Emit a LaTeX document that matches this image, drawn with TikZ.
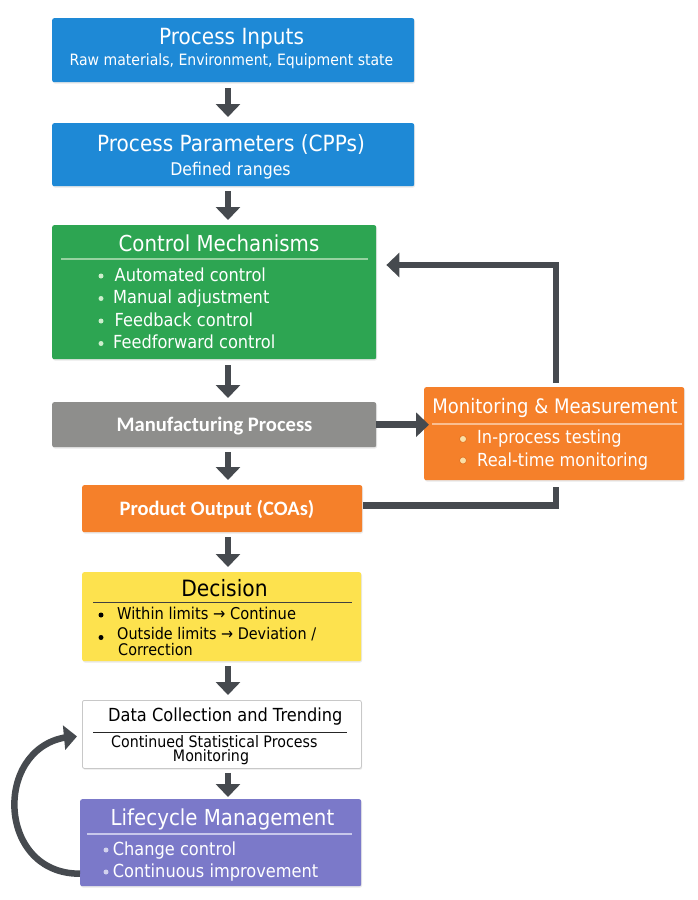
\documentclass[tikz,border=0pt]{standalone}
\usepackage{fontspec}
\setmainfont[FakeStretch=0.9]{DejaVu Sans}
\newfontfamily\carlitofont{Carlito}
\usetikzlibrary{arrows.meta,bending,shadows}
\definecolor{blueb}{RGB}{30,137,214}
\definecolor{greenb}{RGB}{45,165,82}
\definecolor{grayb}{RGB}{142,142,140}
\definecolor{orangeb}{RGB}{245,128,42}
\definecolor{yellowb}{RGB}{253,226,78}
\definecolor{purpleb}{RGB}{123,121,201}
\definecolor{arrowc}{RGB}{70,74,79}
\definecolor{borderc}{RGB}{200,200,200}
\definecolor{greensep}{RGB}{150,210,160}
\definecolor{greendot}{RGB}{205,238,205}
\definecolor{orangesep}{RGB}{250,190,145}
\definecolor{orangedot}{RGB}{250,222,165}
\definecolor{orangering}{RGB}{225,110,30}
\definecolor{purplesep}{RGB}{200,200,235}
\definecolor{purpledot}{RGB}{210,210,238}
\newcommand\fsz[1]{\fontsize{#1}{#1}\selectfont}
\tikzset{
  box/.style={rounded corners=2pt, inner sep=0pt, anchor=north west,
    drop shadow={opacity=0.18, shadow xshift=0.8pt, shadow yshift=-1.3pt}},
  arr/.style={draw=arrowc, line width=6.5pt, line join=miter,
    -{Triangle[width=24pt,length=13pt]}},
  link/.style={draw=arrowc, line width=6.5pt, line join=miter},
  txt/.style={inner sep=0pt, text=white, anchor=base},
  ltxt/.style={inner sep=0pt, text=white, anchor=base west},
  dotc/.style={circle, inner sep=0pt, minimum size=5pt, fill=#1},
  ringdot/.style={circle, inner sep=0pt, minimum size=7pt, fill=orangedot, draw=orangering, line width=0.6pt},
}
\begin{document}
\begin{tikzpicture}[x=1pt,y=-1pt]
\fill[white] (0,0) rectangle (698,900);
\useasboundingbox (0,0) rectangle (698,900);

% ---- boxes
\node[box, fill=blueb, minimum width=362pt, minimum height=64pt] (pin) at (52,18) {};
\node[box, fill=blueb, minimum width=362pt, minimum height=63pt] (ppar) at (52,123) {};
\node[box, fill=greenb, minimum width=324pt, minimum height=134pt] (ctl) at (52,225) {};
\node[box, fill=grayb, minimum width=324pt, minimum height=45pt] (mfg) at (52,402) {};
\node[box, fill=orangeb, minimum width=260pt, minimum height=93pt] (mon) at (424,387) {};
\node[box, fill=orangeb, minimum width=280pt, minimum height=47pt] (prod) at (82,485) {};
\node[box, fill=yellowb, minimum width=279pt, minimum height=89pt] (dec) at (82,572) {};
\node[box, fill=white, draw=borderc, line width=0.8pt, minimum width=279pt, minimum height=68pt] (dc) at (82,700) {};
\node[box, fill=purpleb, minimum width=281pt, minimum height=87pt] (lcm) at (80,799) {};

% ---- Process Inputs
\node[txt, font=\fsz{22.3}] (pinT) at (231.5,44.5) {Process Inputs};
\node[txt, font=\fsz{15.6}] (pinS) at (231.5,65) {Raw materials, Environment, Equipment state};

% ---- Process Parameters
\node[txt, font=\fsz{22.3}] (pparT) at (231,151.7) {Process Parameters (CPPs)};
\node[txt, font=\fsz{17.5}] (pparS) at (230.5,175) {Defined ranges};

% ---- Control Mechanisms
\node[txt, font=\fsz{22}] (ctlT) at (219,251.7) {Control Mechanisms};
\draw[draw=greensep, line width=1.2pt] (61,259) -- (368,259);
\node[dotc=greendot] (cd1) at (101,276) {};
\node[dotc=greendot] (cd2) at (101,298.5) {};
\node[dotc=greendot] (cd3) at (101,321) {};
\node[dotc=greendot] (cd4) at (101,343.5) {};
\node[ltxt, font=\fsz{18}] (cb1) at (114.5,281) {Automated control};
\node[ltxt, font=\fsz{18}] (cb2) at (113,303.5) {Manual adjustment};
\node[ltxt, font=\fsz{18}] (cb3) at (114.5,326) {Feedback control};
\node[ltxt, font=\fsz{18}] (cb4) at (113,348.5) {Feedforward control};

% ---- Manufacturing Process
\node[txt, font=\carlitofont\bfseries\fsz{20.6}] (mfgT) at (214.5,431.5) {Manufacturing Process};

% ---- Monitoring & Measurement
\node[txt, font=\fsz{20}] (monT) at (555,413) {Monitoring \& Measurement};
\draw[draw=orangesep, line width=1.2pt] (432,424) -- (682,424);
\node[ringdot] (md1) at (463,439) {};
\node[ringdot] (md2) at (463,460.5) {};
\node[ltxt, font=\fsz{18}] (mb1) at (477,443) {In-process testing};
\node[ltxt, font=\fsz{18}] (mb2) at (477,466) {Real-time monitoring};

% ---- Product Output
\node[txt, font=\carlitofont\bfseries\fsz{20.5}] (prodT) at (217,515.5) {Product Output (COAs)};

% ---- Decision
\node[txt, text=black, font=\fsz{22.5}] (decT) at (224.5,596) {Decision};
\draw[draw=black!75, line width=0.8pt] (93,602) -- (352,602);
\node[dotc=black] (dd1) at (101,615) {};
\node[dotc=black] (dd2) at (101,637.5) {};
\node[ltxt, text=black, font=\fsz{16.3}] (db1) at (117,619) {Within limits → Continue};
\node[ltxt, text=black, align=left, font=\fontsize{16}{15.2}\selectfont] (db2) at (117,655) {Outside limits → Deviation /\\\hspace*{1pt}Correction};

% ---- Data Collection
\node[txt, text=black, font=\fsz{18}] (dcT) at (225.3,721.7) {Data Collection and Trending};
\draw[draw=black!85, line width=0.8pt] (93,732.7) -- (347,732.7);
\node[txt, text=black, font=\fsz{15.8}, text depth=0pt] (dcS1) at (214.3,747.3) {Continued Statistical Process};
\node[txt, text=black, font=\fsz{15.8}, text height=8pt] (dcS2) at (211,761.7) {Monitoring};

% ---- Lifecycle Management
\node[txt, font=\fsz{22}] (lcmT) at (222.5,825) {Lifecycle Management};
\draw[draw=purplesep, line width=1.2pt] (87,834) -- (352,834);
\node[dotc=purpledot] (ld1) at (106,850) {};
\node[dotc=purpledot] (ld2) at (106,872) {};
\node[ltxt, font=\fsz{18}] (lb1) at (112.7,855) {Change control};
\node[ltxt, font=\fsz{18}] (lb2) at (112.7,877.3) {Continuous improvement};

% ---- connectors
\coordinate (ax) at (228,0);
\coordinate (fbx) at (556,265);
\draw[arr] ([yshift=-6pt]pin.south -| ax) -- ([yshift=6pt]ppar.north -| ax);
\draw[arr] ([yshift=-5pt]ppar.south -| ax) -- ([yshift=5pt]ctl.north -| ax);
\draw[arr] ([yshift=-6pt]ctl.south -| ax) -- ([yshift=4pt]mfg.north -| ax);
\draw[arr] ([yshift=-5pt]mfg.south -| ax) -- ([yshift=5pt]prod.north -| ax);
\draw[arr] ([yshift=-5pt]prod.south -| ax) -- ([yshift=5pt]dec.north -| ax);
\draw[arr] ([yshift=-5pt]dec.south -| ax) -- ([yshift=5pt]dc.north -| ax);
\draw[arr] ([yshift=-4pt]dc.south -| ax) -- ([yshift=2pt]lcm.north -| ax);
\draw[arr] (mfg.east) -- ([xshift=5pt]mon.west |- mfg.east);
\draw[arr] ([yshift=4pt]mon.north -| fbx) |- ([xshift=10pt]ctl.east |- fbx);
\draw[link] ([xshift=1pt,yshift=3pt]prod.east) -| ([yshift=-7pt]mon.south -| fbx);
\draw[arr] ([yshift=-31pt]lcm.west) .. controls (-7,874) and (-7,737) .. ([xshift=-5pt,yshift=-2pt]dc.west);
\end{tikzpicture}
\end{document}
